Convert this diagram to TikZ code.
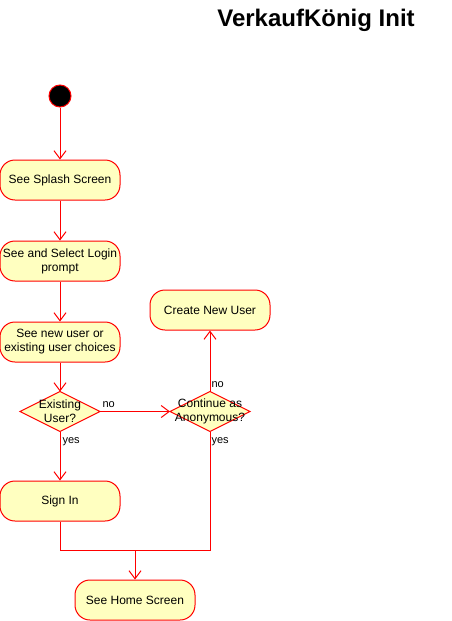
\documentclass[tikz,border=0pt]{standalone}
\usepackage{fontspec}
\setmainfont{Liberation Sans}
\usetikzlibrary{positioning,arrows.meta,shapes.geometric}
\definecolor{umlRed}{HTML}{FF0000}
\definecolor{umlFill}{HTML}{FFFFC0}

\begin{document}
\begin{tikzpicture}[x=1pt,y=-1pt,node distance=40pt,
    act/.style={rounded corners=15pt,draw=umlRed,line width=1pt,fill=umlFill,
      minimum width=120pt,minimum height=40pt,align=center,inner sep=1pt,
      font=\fontsize{12}{14}\selectfont},
    decide/.style={diamond,draw=umlRed,line width=1pt,fill=umlFill,
      minimum width=80pt,minimum height=40pt,inner sep=0pt,outer sep=0pt},
    dtext/.style={align=center,inner sep=0pt,font=\fontsize{12}{14}\selectfont},
    arr/.style={draw=umlRed,line width=1pt,-{Straight Barb[length=8pt,width=12pt]}},
    lbl/.style={font=\fontsize{11}{13}\selectfont,inner sep=0pt}]
    \useasboundingbox[fill=white] (0,0) rectangle (451,621);
    \node[font=\fontsize{24}{28}\selectfont\bfseries] (title) at (316,20) {VerkaufKönig Init};
    \node[circle,fill=black,draw=umlRed,line width=1pt,minimum size=22pt,inner sep=0pt] (start) at (60,96) {};
    \node[act] (splash) at (60,180) {See Splash Screen};
    \node[act,below=of splash] (login) {See and Select Login\\prompt};
    \node[act,below=of login] (choice) {See new user or\\existing user choices};
    \node[decide,below=29pt of choice,label={[dtext]center:Existing\\User?}] (exists) {};
    \node[decide,right=70pt of exists,label={[dtext]center:Continue as\\Anonymous?}] (anon) {};
    \node[act,above=61pt of anon] (newuser) {Create New User};
    \node[act,below=49pt of exists] (signin) {Sign In};
    \node[act] (home) at (135,600) {See Home Screen};
    \coordinate (join) at (135,550);
    \draw[arr] (start) -- (splash);
    \draw[arr] (splash) -- (login);
    \draw[arr] (login) -- (choice);
    \draw[arr] (choice) -- (exists);
    \draw[arr] (exists) -- node[lbl,pos=0,above right,xshift=2pt,yshift=3pt] {no} (anon);
    \draw[arr] (exists) -- node[lbl,pos=0,below right,xshift=2pt,yshift=-6pt] {yes} (signin);
    \draw[arr] (anon) -- node[lbl,pos=0,above right,xshift=1pt,yshift=3pt] {no} (newuser);
    \draw[arr] (anon) |- node[lbl,pos=0,below right,xshift=1pt,yshift=-6pt] {yes} (join) -- (home);
    \draw[umlRed,line width=1pt] (signin) |- (join);
  \end{tikzpicture}
\end{document}
